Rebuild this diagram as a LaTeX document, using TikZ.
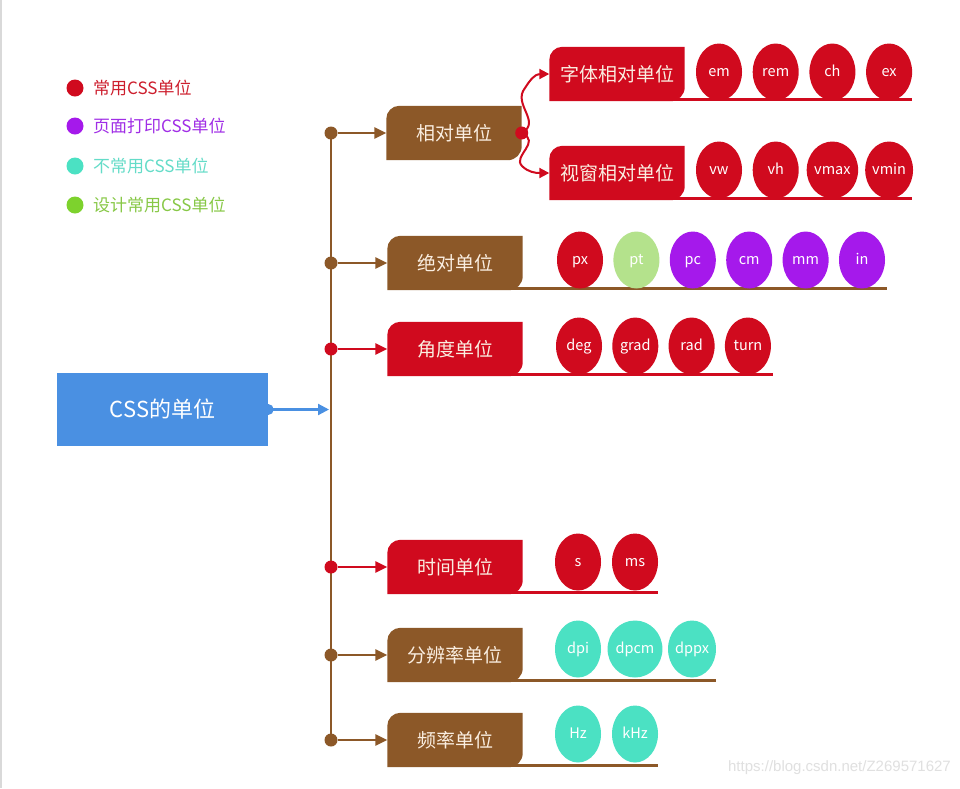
\documentclass[tikz,border=0pt]{standalone}
\usepackage{fontspec}
\setmainfont{Noto Sans CJK SC}
\newfontfamily\wmfont{Liberation Sans}
\usetikzlibrary{arrows.meta,shapes.geometric}
\pgfdeclarelayer{bg}
\pgfdeclarelayer{paper}
\pgfsetlayers{paper,bg,main}

\definecolor{cred}{RGB}{208,10,30}
\definecolor{cbrown}{RGB}{140,88,40}
\definecolor{cblue}{RGB}{74,144,226}
\definecolor{cpurple}{RGB}{165,25,235}
\definecolor{cteal}{RGB}{75,225,195}
\definecolor{cgreen}{RGB}{125,210,45}
\definecolor{cpale}{RGB}{180,226,140}
\definecolor{ccream}{RGB}{250,238,225}
\definecolor{tred}{RGB}{205,30,45}
\definecolor{tpurple}{RGB}{160,45,230}
\definecolor{tteal}{RGB}{100,220,200}
\definecolor{tgreen}{RGB}{135,200,70}

\newcommand\catshape[3]{%
  \begin{pgfonlayer}{bg}
    \fill[#2] (#1.south west) -- ([yshift=-13pt]#1.north west)
      arc[start angle=180,end angle=90,radius=13pt] -- (#1.north east)
      -- ([yshift=14pt]#1.south east)
      arc[start angle=0,end angle=-90,radius=14pt] -- cycle;
    \path (#3,0) coordinate (#1end);
    \draw[#2, line width=3pt] ([yshift=1.5pt,xshift=-14pt]#1.south east) -- ([yshift=1.5pt]#1.south -| #1end);
  \end{pgfonlayer}}

\begin{document}
\begin{tikzpicture}[x=1pt,y=-1pt,
  catbox/.style={minimum width=135pt, minimum height=54pt, inner sep=0pt,
    text=ccream, font=\fontsize{19}{19}\selectfont},
  unit/.style={ellipse, minimum width=46pt, minimum height=57pt, inner sep=0pt,
    text=white, font=\fontsize{14.5}{14.5}\selectfont,
    text height=0.95em, text depth=0em},
  link/.style={line width=2.8pt, -{Triangle[length=12pt,width=11pt]}},
  dotc/.style={circle, inner sep=0pt, minimum size=13pt},
  ldot/.style={circle, inner sep=0pt, minimum size=17pt},
  ltext/.style={anchor=west, inner sep=0pt, font=\fontsize{17}{17}\selectfont},
  wave/.style={cred, line width=2pt, -{Triangle[length=10pt,width=10pt]}}]

\useasboundingbox (0,0) rectangle (960,788);
\begin{pgfonlayer}{paper}
\fill[white] (0,0) rectangle (960,788);
\fill[black!15] (0,0) rectangle (1.5,788);
\end{pgfonlayer}

% legend
\node[ldot, fill=cred] (l1) at (75,88) {};
\node[ldot, fill=cpurple] (l2) at (75,126) {};
\node[ldot, fill=cteal] (l3) at (75,166) {};
\node[ldot, fill=cgreen] (l4) at (75,205) {};
\node[ltext, text=tred] (lt1) at (93,88) {常用CSS单位};
\node[ltext, text=tpurple] (lt2) at (93,126) {页面打印CSS单位};
\node[ltext, text=tteal] (lt3) at (93,166) {不常用CSS单位};
\node[ltext, text=tgreen] (lt4) at (93,205) {设计常用CSS单位};

% root
\node[fill=cblue, minimum width=211pt, minimum height=73pt, inner sep=0pt,
  text=white, font=\fontsize{22}{22}\selectfont] (root) at (162.5,409.5) {CSS的单位};
\path (331,0) coordinate (tx);
\node[circle, fill=cblue, inner sep=0pt, minimum size=11pt] (rdot) at (root.east) {};
\coordinate (tin) at ([xshift=-2pt]root -| tx);

% category boxes
\node[catbox] (xd) at (454,133) {相对单位};
\node[catbox] (jd) at (455,263) {绝对单位};
\node[catbox] (jdu) at (455,349) {角度单位};
\node[catbox] (sj) at (455,567) {时间单位};
\node[catbox] (fb) at (455,655) {分辨率单位};
\node[catbox] (pl) at (455,740) {频率单位};
\node[catbox] (zt) at (617,74) {字体相对单位};
\node[catbox] (sc) at (617,173) {视窗相对单位};

\catshape{xd}{cbrown}{507}
\catshape{jd}{cbrown}{887}
\catshape{jdu}{cred}{773}
\catshape{sj}{cred}{658}
\catshape{fb}{cbrown}{716}
\catshape{pl}{cbrown}{658}
\catshape{zt}{cred}{912}
\catshape{sc}{cred}{912}

% trunk dots
\node[dotc, fill=cbrown] (d1) at (xd -| tx) {};
\node[dotc, fill=cbrown] (d2) at (jd -| tx) {};
\node[dotc, fill=cred] (d3) at (jdu -| tx) {};
\node[dotc, fill=cred] (d4) at (sj -| tx) {};
\node[dotc, fill=cbrown] (d5) at (fb -| tx) {};
\node[dotc, fill=cbrown] (d6) at (pl -| tx) {};

\begin{pgfonlayer}{bg}
\draw[cbrown, line width=2.8pt] (d1.center) -- (d6.center);
\end{pgfonlayer}
\draw[cblue, line width=2.2pt, -{Triangle[length=11pt,width=11pt]}] (rdot.center) -- (tin);

\draw[link, cbrown] (d1) -- (xd.west);
\draw[link, cbrown] (d2) -- (jd.west);
\draw[link, cred] (d3) -- (jdu.west);
\draw[link, cred] (d4) -- (sj.west);
\draw[link, cbrown] (d5) -- (fb.west);
\draw[link, cbrown] (d6) -- (pl.west);

% relative split
\node[circle, fill=cred, inner sep=0pt, minimum size=13pt] (rd) at (xd.east) {};
\draw[wave] (rd.center) .. controls (542,122) and (512,104) .. (525,88)
  .. controls (530,80) and (535,74) .. (zt.west);
\draw[wave] (rd.center) .. controls (542,142) and (512,156) .. (522,166)
  .. controls (528,172) and (535,173) .. (sc.west);

% unit circles
\foreach \t [count=\i] in {em,rem,ch,ex}
  \node[unit, fill=cred] (u1\i) at ({719+56.7*(\i-1)},72) {\t};
\foreach \t [count=\i] in {vw,vh,vmax,vmin}
  \node[unit, fill=cred] (u2\i) at ({719+56.7*(\i-1)},170) {\t};
\foreach \t/\c [count=\i] in {px/cred,pt/cpale,pc/cpurple,cm/cpurple,mm/cpurple,in/cpurple}
  \node[unit, fill=\c] (u3\i) at ({580+56.4*(\i-1)},260) {\t};
\foreach \t [count=\i] in {deg,grad,rad,turn}
  \node[unit, fill=cred] (u4\i) at ({579+56.3*(\i-1)},346) {\t};
\foreach \t [count=\i] in {s,ms}
  \node[unit, fill=cred] (u5\i) at ({578+57*(\i-1)},562) {\t};
\foreach \t [count=\i] in {dpi,dpcm,dppx}
  \node[unit, fill=cteal] (u6\i) at ({578+57*(\i-1)},649) {\t};
\foreach \t [count=\i] in {Hz,kHz}
  \node[unit, fill=cteal] (u7\i) at ({578+57*(\i-1)},734) {\t};

% watermark
\node[anchor=east, text=black!12, font=\wmfont\fontsize{15}{15}\selectfont, inner sep=0pt] (wm) at (951,768) {https://blog.csdn.net/Z269571627};
\end{tikzpicture}
\end{document}
